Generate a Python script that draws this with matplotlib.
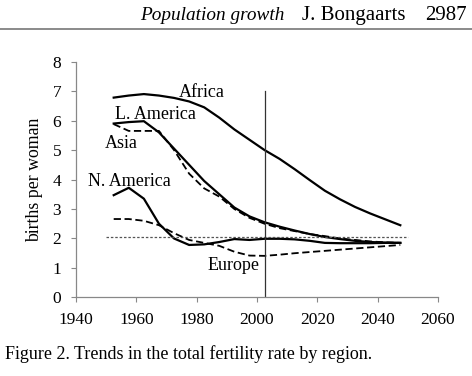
import matplotlib
matplotlib.use("Agg")
import matplotlib.pyplot as plt
from matplotlib.lines import Line2D

plt.rcParams['font.family'] = ['Liberation Serif', 'DejaVu Serif']

# 5-year period midpoints
years = [1952.5, 1957.5, 1962.5, 1967.5, 1972.5, 1977.5, 1982.5, 1987.5, 1992.5, 1997.5,
         2002.5, 2007.5, 2012.5, 2017.5, 2022.5, 2027.5, 2032.5, 2037.5, 2042.5, 2047.5]

africa = [6.78, 6.85, 6.9, 6.85, 6.77, 6.65, 6.45, 6.1, 5.7, 5.35,
          5.0, 4.7, 4.35, 3.98, 3.62, 3.33, 3.07, 2.85, 2.65, 2.45]
latin_america = [5.9, 5.95, 5.98, 5.6, 5.05, 4.5, 3.95, 3.5, 3.05, 2.75,
                 2.55, 2.4, 2.27, 2.15, 2.05, 1.98, 1.92, 1.88, 1.86, 1.85]
asia = [5.88, 5.65, 5.65, 5.65, 5.0, 4.2, 3.7, 3.42, 3.0, 2.7,
        2.5, 2.35, 2.25, 2.15, 2.08, 2.0, 1.95, 1.9, 1.87, 1.85]
north_america = [3.47, 3.72, 3.35, 2.5, 2.0, 1.78, 1.8, 1.88, 1.98, 1.95,
                 1.99, 1.99, 1.97, 1.92, 1.85, 1.84, 1.84, 1.84, 1.85, 1.85]
europe = [2.66, 2.66, 2.6, 2.45, 2.18, 1.95, 1.85, 1.75, 1.55, 1.42,
          1.41, 1.45, 1.5, 1.54, 1.58, 1.62, 1.66, 1.7, 1.74, 1.78]

replacement = 2.06
current_year = 2002.5

fig = plt.figure(figsize=(4.72, 3.76), dpi=100)
ax = fig.add_axes([0.161, 0.209, 0.767, 0.627])

ax.plot(years, africa, color='black', lw=1.6)
ax.plot(years, latin_america, color='black', lw=1.6)
ax.plot(years, asia, color='black', lw=1.3, ls=(0, (4, 2)))
ax.plot(years, north_america, color='black', lw=1.6)
ax.plot(years, europe, color='black', lw=1.3, ls=(0, (4, 2)))
ax.plot([1950, 2050], [replacement, replacement], color='#555555', lw=0.9, ls=(0, (2, 1.5)))
ax.plot([current_year, current_year], [0, 7], color='#333333', lw=0.9)

fs = 13
ax.text(1974, 6.95, "Africa", fontsize=fs, va='center')
ax.text(1953, 6.2, "L. America", fontsize=fs, va='center')
ax.text(1949.5, 5.22, "Asia", fontsize=fs, va='center')
ax.text(1944, 3.95, "N. America", fontsize=fs, va='center')
ax.text(1983.5, 1.1, "Europe", fontsize=fs, va='center')

ax.set_xlim(1940, 2060)
ax.set_ylim(0, 8)
ax.set_xticks(range(1940, 2061, 20))
ax.set_yticks(range(0, 9))
ax.set_ylabel("births per woman", fontsize=12.8, labelpad=7)
ax.tick_params(labelsize=12.5, length=3.6, width=0.8, color='#888888')
ax.tick_params(axis='y', pad=7)
ax.tick_params(axis='x', pad=7)
for s in ['top', 'right']:
    ax.spines[s].set_visible(False)
for s in ['left', 'bottom']:
    ax.spines[s].set_color('#888888')
    ax.spines[s].set_linewidth(0.9)

hy = 0.958
fig.text(0.297, hy, "Population growth", fontsize=13.9, style='italic', va='center')
fig.text(0.640, hy, "J. Bongaarts", fontsize=15, va='center')
fig.text(0.900, hy, "2987", fontsize=15, va='center')
fig.add_artist(Line2D([0, 1], [0.922, 0.922], color='#777777', lw=1.2))

fig.text(0.01, 0.058, "Figure 2. Trends in the total fertility rate by region.", fontsize=13, va='center')

fig.savefig("out.png", dpi=100)
